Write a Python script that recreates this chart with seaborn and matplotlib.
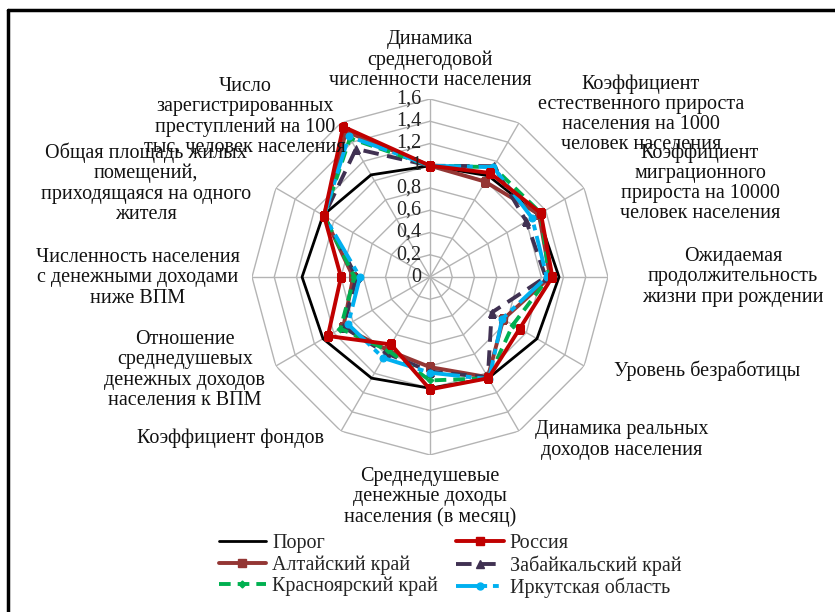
import numpy as np
import matplotlib
matplotlib.use("Agg")
import matplotlib.pyplot as plt
import seaborn as sns
from matplotlib.lines import Line2D

sns.set_theme(style="white")
plt.rcParams['font.family'] = ['Liberation Serif', 'DejaVu Serif']

# ---------------- data ----------------
categories = [
    "Динамика\nсреднегодовой\nчисленности населения",
    "Коэффициент\nестественного прироста\nнаселения на 1000\nчеловек населения",
    "Коэффициент\nмиграционного\nприроста на 10000\nчеловек населения",
    "Ожидаемая\nпродолжительность\nжизни при рождении",
    "Уровень безработицы",
    "Динамика реальных\nдоходов населения",
    "Среднедушевые\nденежные доходы\nнаселения (в месяц)",
    "Коэффициент фондов",
    "Отношение\nсреднедушевых\nденежных доходов\nнаселения к ВПМ",
    "Численность населения\nс денежными доходами\nниже ВПМ",
    "Общая площадь жилых\nпомещений,\nприходящаяся на одного\nжителя",
    "Число\nзарегистрированных\nпреступлений на 100\nтыс. человек населения",
]
porog       = [1.00, 1.05, 1.12, 1.16, 1.11, 1.05, 1.00, 1.05, 1.11, 1.15, 1.11, 1.06]
russia      = [1.00, 1.08, 1.15, 1.10, 0.93, 1.05, 1.01, 0.70, 1.06, 0.80, 1.10, 1.56]
altai       = [1.00, 0.99, 1.13, 1.08, 0.76, 1.04, 0.81, 0.76, 0.90, 0.69, 1.10, 1.51]
zabaikal    = [1.00, 1.15, 1.00, 1.04, 0.64, 1.04, 0.85, 0.79, 0.90, 0.66, 1.10, 1.33]
krasnoyarsk = [1.00, 1.14, 1.15, 1.07, 0.86, 1.05, 0.93, 0.76, 0.93, 0.68, 1.10, 1.44]
irkutsk     = [1.00, 1.14, 1.06, 1.05, 0.75, 1.06, 0.86, 0.84, 0.85, 0.63, 1.10, 1.46]
r_ticks = [0, 0.2, 0.4, 0.6, 0.8, 1.0, 1.2, 1.4, 1.6]
r_tick_labels = ["0", "0,2", "0,4", "0,6", "0,8", "1", "1,2", "1,4", "1,6"]

series_names = ["Порог", "Россия", "Алтайский край", "Забайкальский край",
                "Красноярский край", "Иркутская область"]
series_values = [porog, russia, altai, zabaikal, krasnoyarsk, irkutsk]

# ---------------- figure ----------------
W, H = 835, 612
fig = plt.figure(figsize=(W / 100, H / 100), dpi=100)
fig.patch.set_facecolor("white")

cx, cy, R = 430, 277, 178
ax = fig.add_axes([(cx - R) / W, 1 - (cy + R) / H, 2 * R / W, 2 * R / H],
                  projection="polar")
ax.set_theta_zero_location("N")
ax.set_theta_direction(-1)
ax.set_ylim(0, 1.6)
ax.grid(False)
ax.set_xticks([])
ax.set_yticks([])
ax.spines["polar"].set_visible(False)
ax.set_facecolor("none")

n = len(categories)
theta = np.arange(n) * 2 * np.pi / n
theta_c = np.append(theta, 2 * np.pi)

grid_col = "#B4B4B4"
for r in r_ticks[1:]:
    ax.plot(theta_c, [r] * (n + 1), color=grid_col, lw=1.0, zorder=1)
for t in theta:
    ax.plot([t, t], [0, 1.6], color=grid_col, lw=1.0, zorder=1)

styles = {
    "Порог": dict(color="black", lw=2.0, ls="-", marker=None, ms=0),
    "Россия": dict(color="#C00000", lw=2.8, ls="-", marker="s", ms=5.5),
    "Алтайский край": dict(color="#943634", lw=2.8, ls="-", marker="s", ms=5.5),
    "Забайкальский край": dict(color="#403152", lw=2.8, ls=(0, (4, 2.2)), marker="^", ms=6),
    "Красноярский край": dict(color="#00B050", lw=2.8, ls=(0, (3, 1.8)), marker="D", ms=3.5),
    "Иркутская область": dict(color="#00B0F0", lw=2.8, ls=(0, (8, 1.5, 1.5, 1.5)), marker="o", ms=5),
}
zorders = {"Порог": 2, "Алтайский край": 3, "Забайкальский край": 4,
           "Красноярский край": 5, "Иркутская область": 6, "Россия": 7}

handles = {}
for name, vals in zip(series_names, series_values):
    st = styles[name]
    v = np.append(vals, vals[0])
    sns.lineplot(x=theta_c, y=v, ax=ax, sort=False, color=st["color"],
                 linewidth=st["lw"], linestyle=st["ls"],
                 marker=st["marker"], markersize=st["ms"],
                 markeredgecolor=st["color"], markerfacecolor=st["color"],
                 zorder=zorders[name], legend=False)
    handles[name] = Line2D([], [], color=st["color"], lw=st["lw"], ls=st["ls"],
                           marker=st["marker"], markersize=st["ms"],
                           markeredgecolor=st["color"], markerfacecolor=st["color"])

# radial tick labels
for r, lab in zip(r_ticks, r_tick_labels):
    ax.annotate(lab, xy=(0, r), xytext=(-6, 0), textcoords="offset points",
                ha="right", va="center", fontsize=14.5, color="#222222", zorder=10)

# category labels (pixel positions of text blocks)
label_pos = [
    (430, 60), (641, 114), (700, 183), (733, 277), (707, 371), (622, 440),
    (430, 497), (231, 438), (185, 370), (138, 278), (146, 183), (245, 117),
]
for lab, (px, py) in zip(categories, label_pos):
    fig.text(px / W, 1 - py / H, lab, ha="center", va="center", fontsize=14.5,
             multialignment="center", color="#111111", linespacing=1.08)

# legend
order = ["Порог", "Алтайский край", "Красноярский край",
         "Россия", "Забайкальский край", "Иркутская область"]
fig.legend([handles[k] for k in order], order, ncol=2, frameon=False,
           loc="center", bbox_to_anchor=(450 / W, 1 - 566 / H),
           fontsize=14.5, handlelength=2.35, handletextpad=0.3,
           columnspacing=0.9, labelspacing=0.08, borderpad=0)

# outer frame (left and top edges visible)
fig.add_artist(Line2D([8 / W, 8 / W], [0, 1 - 10 / H], transform=fig.transFigure,
                      color="black", lw=2.5))
fig.add_artist(Line2D([8 / W, 1.0], [1 - 10 / H, 1 - 10 / H], transform=fig.transFigure,
                      color="black", lw=2.5))

fig.savefig("out.png", dpi=100, facecolor="white")
